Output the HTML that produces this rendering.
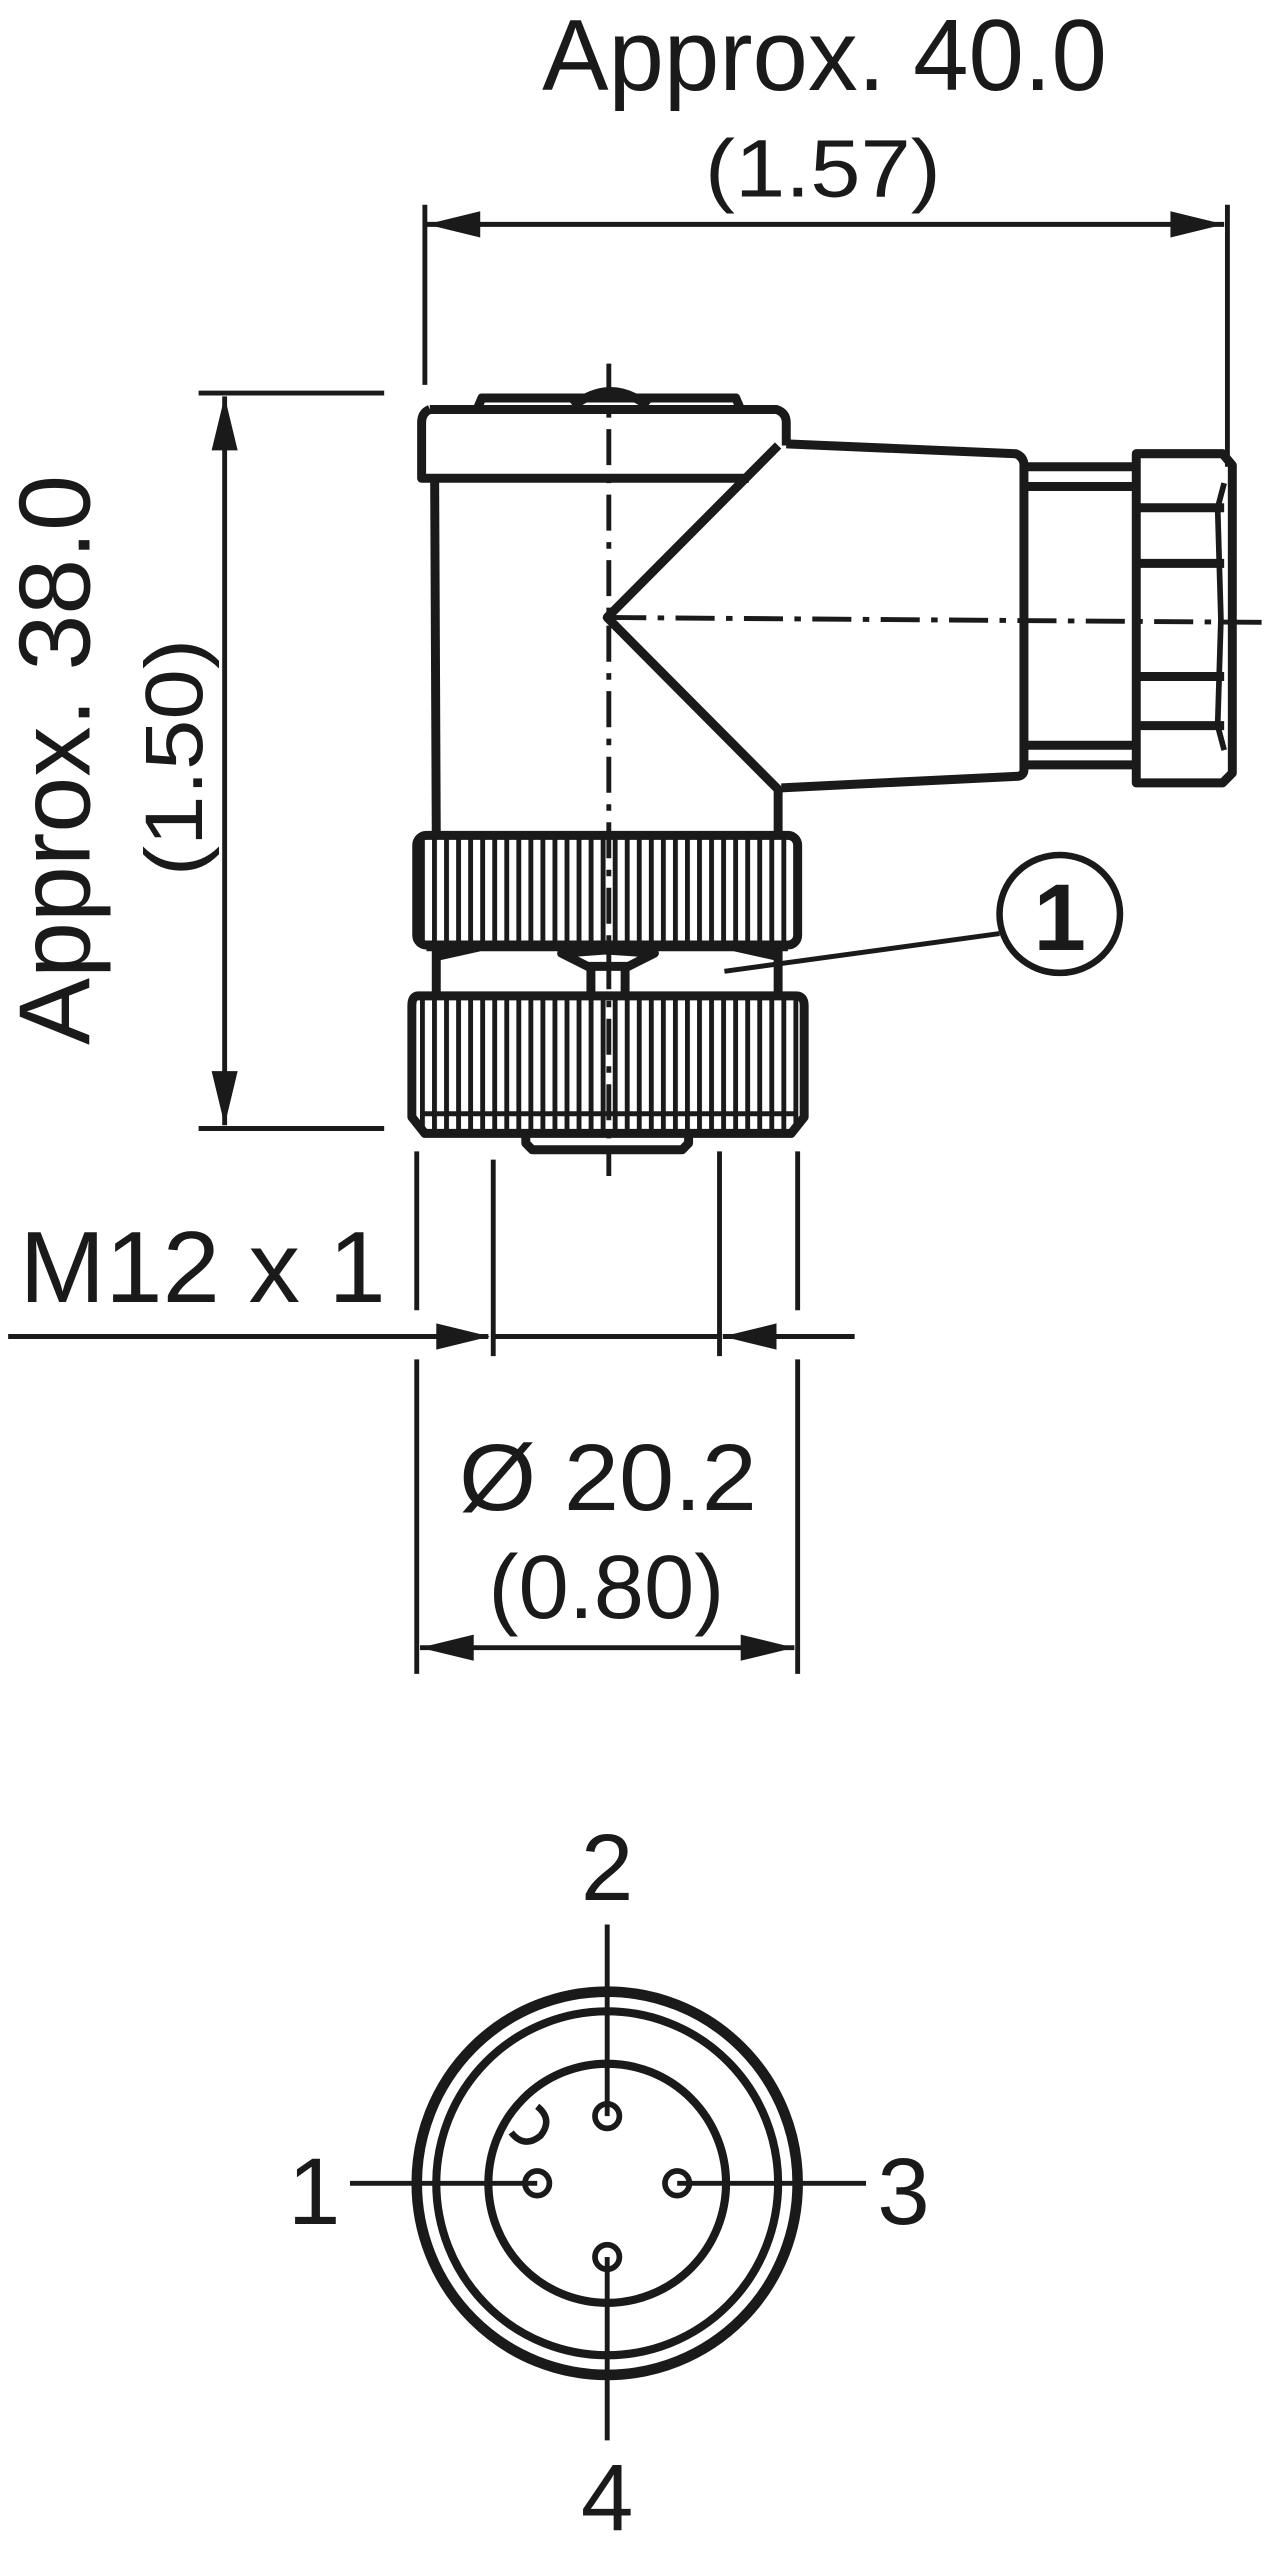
<!DOCTYPE html>
<html><head><meta charset="utf-8"><style>html,body{margin:0;padding:0;background:#fff}svg{display:block}</style></head>
<body>
<svg width="1273" height="2560" viewBox="0 0 782 1563" preserveAspectRatio="none" xmlns="http://www.w3.org/2000/svg">
<defs>
<pattern id="kn" width="7.4" height="10" patternUnits="userSpaceOnUse" x="258">
<rect width="7.4" height="10" fill="#fff"/><rect x="0" width="3" height="10" fill="#1a1a1a"/>
</pattern>
</defs>
<g font-family="Liberation Sans Narrow, Liberation Sans, sans-serif" fill="#1a1a1a">
<text x="333" y="55" font-size="62" textLength="347" lengthAdjust="spacingAndGlyphs">Approx. 40.0</text>
<text x="433" y="120" font-size="50" textLength="145" lengthAdjust="spacingAndGlyphs">(1.57)</text>
<text transform="translate(55,638) rotate(-90)" font-size="62" textLength="348" lengthAdjust="spacingAndGlyphs">Approx. 38.0</text>
<text transform="translate(124,535) rotate(-90)" font-size="50" textLength="145" lengthAdjust="spacingAndGlyphs">(1.50)</text>
<text x="12" y="795" font-size="62" textLength="225" lengthAdjust="spacingAndGlyphs">M12 x 1</text>
<text x="282" y="922" font-size="58" textLength="183" lengthAdjust="spacingAndGlyphs">Ø 20.2</text>
<text x="300" y="988" font-size="55" textLength="145" lengthAdjust="spacingAndGlyphs">(0.80)</text>
<text x="373" y="1160" font-size="58" text-anchor="middle">2</text>
<text x="193" y="1358" font-size="58" text-anchor="middle">1</text>
<text x="555" y="1358" font-size="58" text-anchor="middle">3</text>
<text x="373" y="1545" font-size="58" text-anchor="middle">4</text>
<text x="651" y="580" font-size="58" font-weight="bold" text-anchor="middle" font-family="Liberation Sans, sans-serif">1</text>
</g>
<g stroke="#1a1a1a" stroke-width="3" fill="none">
<line x1="261" y1="125" x2="261" y2="235"/>
<line x1="754" y1="125" x2="754" y2="285"/>
<line x1="262" y1="137" x2="752" y2="137"/>
<line x1="122" y1="240" x2="236" y2="240"/>
<line x1="122" y1="689" x2="236" y2="689"/>
<line x1="138" y1="242" x2="138" y2="687"/>
<line x1="5" y1="816" x2="300" y2="816"/>
<line x1="303" y1="816" x2="441" y2="816"/>
<line x1="444" y1="816" x2="525" y2="816"/>
<line x1="303" y1="708" x2="303" y2="828"/>
<line x1="442" y1="703" x2="442" y2="828"/>
<line x1="256" y1="703" x2="256" y2="800"/>
<line x1="256" y1="830" x2="256" y2="1022"/>
<line x1="490" y1="703" x2="490" y2="800"/>
<line x1="490" y1="830" x2="490" y2="1022"/>
<line x1="258" y1="1006" x2="488" y2="1006"/>
<line x1="614" y1="570" x2="445" y2="593"/>
</g>
<g fill="#1a1a1a">
<polygon points="262,137 295,129 295,145"/>
<polygon points="752,137 719,129 719,145"/>
<polygon points="138,242 130,275 146,275"/>
<polygon points="138,687 130,654 146,654"/>
<polygon points="301,816 268,808 268,824"/>
<polygon points="444,816 477,808 477,824"/>
<polygon points="258,1006 291,998 291,1014"/>
<polygon points="488,1006 455,998 455,1014"/>
</g>
<g stroke="#1a1a1a" stroke-width="5.5" fill="none" stroke-linejoin="round">
<path d="M293,250 L296,243 L452,243 L455,250"/>
<path d="M352,248 Q375,230 398,248"/>
<path d="M264,250 L477,250 Q483,252 483,258 L483,272 M264,250 Q259,252 259,258 L259,292 L460,292"/>
<line x1="267" y1="292" x2="268" y2="510"/>
<path d="M478,272 L373,377 L478,482 L478,510"/>
<path d="M483,271 L624,277 Q629,279 629,284 L629,470 Q629,474 624,474 L480,481"/>
<path d="M631,285 L698,285 M631,297 L698,297 M631,455 L698,455 M631,467 L698,467"/>
<path d="M698,277 L751,277 L757,284 L757,472 L751,478 L698,478 Z"/>
<path d="M700,310 L752,310 M700,344 L752,344 M700,413 L752,413 M700,443 L752,443"/>
<path d="M752,295 L748,310 L750,378 L748,443 L752,458" stroke-width="3.5"/>
<rect x="256" y="510" width="234" height="67" rx="6" fill="url(#kn)"/>
<path d="M262,578 L484,578 M268,580 L268,607 M478,580 L478,607 M268,584 L295,578 M478,584 L451,578 M345,582 L361,590 L386,590 L402,582 L372,580 Z"/>
<path d="M363,590 L363,608 M384,590 L384,608"/>
<path d="M257,608 L489,608 Q494,608 494,614 L494,682 L486,692 L261,692 L253,682 L253,614 Q253,608 257,608 Z" fill="url(#kn)"/>
<line x1="259" y1="680" x2="488" y2="680" stroke-width="3"/>
<path d="M323,693 L323,698 L327,702 L419,702 L423,698 L423,693"/>
</g>
<g stroke="#1a1a1a" stroke-width="3" fill="none">
<line x1="374" y1="222" x2="374" y2="718" stroke-dasharray="22,7,4,7"/>
<line x1="373" y1="377" x2="780" y2="380" stroke-dasharray="24,7,4,7"/>
</g>
<g stroke="#1a1a1a" fill="none">
<circle cx="373" cy="1333" r="117" stroke-width="6.5"/>
<circle cx="373" cy="1333" r="105" stroke-width="5"/>
<circle cx="373" cy="1333" r="73" stroke-width="5"/>
<circle cx="373" cy="1292" r="7.5" stroke-width="3.5"/>
<circle cx="330" cy="1333" r="7.5" stroke-width="3.5"/>
<circle cx="416" cy="1333" r="7.5" stroke-width="3.5"/>
<circle cx="373" cy="1378" r="7.5" stroke-width="3.5"/>
<path d="M314,1302 Q322,1312 332,1304 Q340,1294 330,1286" stroke-width="4"/>
<g stroke-width="3">
<line x1="373" y1="1175" x2="373" y2="1292"/>
<line x1="373" y1="1378" x2="373" y2="1490"/>
<line x1="215" y1="1333" x2="330" y2="1333"/>
<line x1="416" y1="1333" x2="532" y2="1333"/>
</g>
<ellipse cx="651" cy="558" rx="37" ry="36" stroke-width="4"/>
</g>
</svg>
</body></html>
